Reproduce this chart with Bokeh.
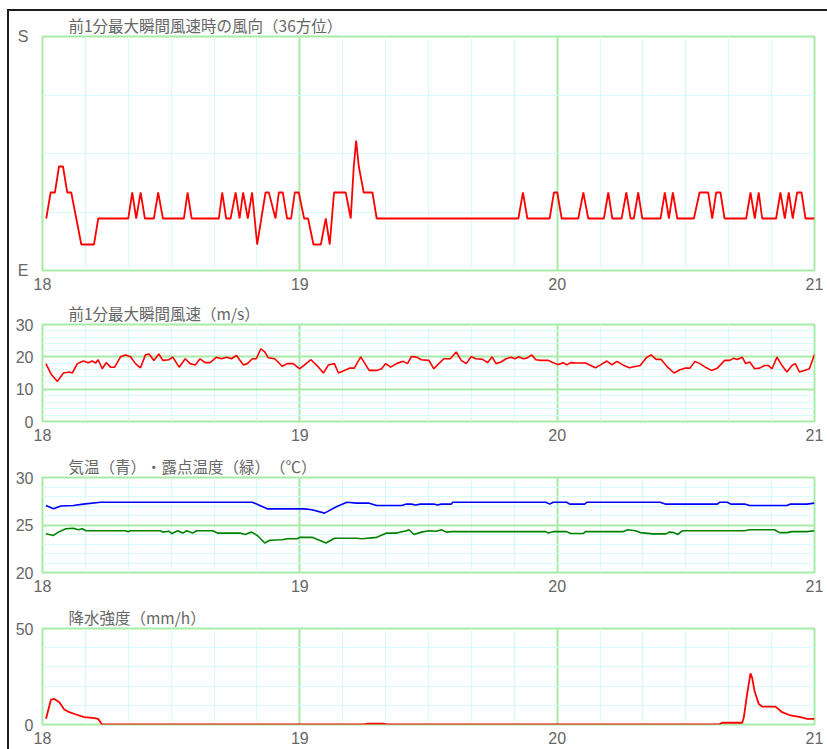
from bokeh.plotting import figure
from bokeh.layouts import column
from bokeh.models import FixedTicker, Range1d
from bokeh.embed import file_html
from bokeh.resources import INLINE

# ---------------- data ----------------
DAY_TICKS = [18, 19, 20, 21]

# panel 1: wind direction at max gust (degrees, 36-point compass; E=90, S=180)
wd_hours = [0.35, 0.76, 1.16, 1.54, 1.91, 2.31, 2.68, 3.15, 3.62, 4.80, 5.20, 8.00, 8.37, 8.74,
            9.15, 9.55, 10.39, 10.79, 11.23, 13.19, 13.53, 13.91, 16.45, 16.76, 17.13, 17.54,
            18.01, 18.38, 18.71, 19.15, 19.55, 20.02, 20.80, 21.11, 21.73, 22.04, 22.41, 22.81,
            23.19, 23.53, 23.90, 24.40, 24.77, 25.27, 25.96, 26.42, 26.79, 27.19, 28.28, 28.75,
            29.03, 29.25, 29.50, 29.96, 30.77, 31.17, 44.38, 44.81, 45.22, 47.30, 47.70, 48.01,
            48.42, 49.97, 50.44, 50.90, 52.36, 52.77, 53.14, 54.01, 54.45, 54.85, 55.15, 55.56,
            55.94, 57.64, 58.04, 58.42, 58.79, 59.20, 60.75, 61.28, 62.09, 62.46, 62.83, 63.23,
            63.61, 65.63, 66.03, 66.43, 66.80, 67.12, 68.42, 68.82, 69.23, 69.60, 69.97, 70.38,
            70.79, 71.16, 72.00]
wd_deg = [110, 120, 120, 130, 130, 120, 120, 110, 100, 100, 110, 110, 120, 110,
          120, 110, 110, 120, 110, 110, 120, 110, 110, 120, 110, 110,
          120, 110, 120, 110, 120, 100, 120, 120, 110, 120, 120, 110,
          110, 120, 120, 110, 110, 100, 100, 110, 100, 120, 120, 110,
          130, 140, 130, 120, 120, 110, 110, 120, 110, 110, 120, 120,
          110, 110, 120, 110, 110, 120, 110, 110, 120, 110, 110, 120,
          110, 110, 120, 110, 120, 110, 110, 120, 120, 110, 120, 120,
          110, 110, 120, 110, 120, 110, 110, 120, 110, 120, 110, 120,
          120, 110, 110]

# panel 2: max gust speed (m/s)
ws_hours = [0.32, 0.79, 1.39, 1.95, 2.50, 2.78, 3.25, 3.80, 4.27, 4.64, 4.96, 5.19, 5.57, 5.94,
            6.35, 6.73, 7.28, 7.75, 8.21, 8.67, 9.14, 9.60, 9.93, 10.39, 10.85, 11.22, 11.78,
            12.15, 12.75, 13.31, 13.77, 14.24, 14.70, 15.17, 15.63, 16.23, 16.70, 17.16, 17.62,
            18.09, 18.74, 19.11, 19.57, 19.94, 20.36, 20.73, 21.06, 21.66, 22.35, 22.82, 23.38,
            23.98, 24.58, 25.04, 25.60, 26.20, 26.67, 27.22, 27.60, 28.15, 28.62, 29.08, 29.68,
            30.47, 31.17, 31.63, 32.00, 32.47, 33.02, 33.63, 34.04, 34.41, 34.88, 35.34, 36.04,
            36.50, 36.96, 37.43, 38.03, 38.59, 39.05, 39.52, 39.98, 40.44, 41.05, 41.51, 41.93,
            42.30, 42.76, 43.23, 43.69, 44.06, 44.39, 44.85, 45.17, 45.64, 46.01, 46.47, 47.17,
            47.63, 48.10, 48.56, 48.89, 49.25, 49.72, 50.65, 51.57, 52.04, 52.64, 53.11, 53.57,
            54.13, 54.73, 55.28, 55.75, 56.31, 56.77, 57.23, 57.70, 58.30, 58.90, 59.46, 59.92,
            60.39, 60.85, 61.31, 61.92, 62.38, 62.94, 63.63, 64.10, 64.47, 64.79, 65.26, 65.58,
            65.95, 66.42, 66.88, 67.34, 67.71, 68.04, 68.50, 68.97, 69.43, 69.90, 70.22, 70.59,
            71.05, 71.52, 72.00]
ws_ms = [17.9, 14.7, 12.4, 15.0, 15.3, 15.0, 17.9, 18.7, 18.2, 18.7, 18.1, 19.1, 16.3, 18.2,
         16.8, 16.8, 20.0, 20.6, 20.0, 17.9, 16.6, 20.6, 20.9, 18.9, 20.9, 18.9, 19.1,
         19.9, 16.8, 19.4, 17.9, 17.5, 19.4, 18.2, 18.2, 19.9, 19.4, 19.9, 19.4,
         20.4, 17.5, 17.9, 19.4, 19.4, 22.5, 21.5, 19.7, 19.4, 17.1, 17.9, 17.9,
         16.3, 17.9, 19.1, 17.3, 15.0, 17.5, 17.9, 15.0, 15.8, 16.5, 16.5, 20.0,
         15.8, 15.8, 16.3, 17.9, 16.8, 17.9, 18.6, 17.9, 20.1, 19.9, 19.1, 18.9,
         16.3, 17.9, 19.4, 19.4, 21.5, 18.9, 17.9, 20.0, 19.4, 19.2, 18.2, 20.0,
         17.9, 18.4, 19.4, 19.9, 19.4, 20.0, 19.4, 19.6, 20.6, 19.1, 18.9, 18.9,
         18.2, 17.6, 18.2, 17.5, 18.2, 18.1, 18.1, 16.6, 17.5, 18.7, 17.5, 18.6,
         17.5, 16.6, 17.0, 17.3, 19.7, 20.6, 19.2, 19.2, 16.8, 15.0, 16.0, 16.5,
         16.5, 18.6, 17.9, 16.6, 15.8, 16.5, 18.9, 18.9, 19.6, 19.2, 19.9, 17.9,
         18.4, 16.3, 16.5, 17.3, 17.3, 16.3, 19.9, 17.3, 15.3, 17.3, 17.9, 15.3,
         15.8, 16.3, 20.7]

# panel 3: air temperature (blue) and dew point (green), deg C
ta_hours = [0.32, 1.02, 1.72, 2.88, 3.80, 5.43, 19.57, 20.96, 24.44, 25.14, 26.30, 27.46, 28.39,
            29.31, 30.47, 31.17, 33.49, 33.95, 34.42, 34.79, 35.25, 36.50, 36.83, 37.20, 38.13,
            38.26, 46.94, 47.31, 47.63, 48.89, 49.17, 50.56, 50.79, 57.61, 58.07, 59.46, 62.94,
            63.17, 63.87, 64.19, 65.49, 65.95, 69.43, 69.76, 71.29, 72.00]
ta_c = [27.05, 26.7, 27.0, 27.05, 27.2, 27.4, 27.4, 26.7, 26.7, 26.6, 26.25, 26.95, 27.4,
        27.3, 27.3, 27.05, 27.05, 27.2, 27.2, 27.1, 27.2, 27.2, 27.1, 27.2, 27.2,
        27.4, 27.4, 27.2, 27.4, 27.4, 27.2, 27.2, 27.4, 27.4, 27.2, 27.2, 27.2,
        27.4, 27.4, 27.2, 27.2, 27.05, 27.05, 27.2, 27.2, 27.3]
td_hours = [0.32, 1.02, 1.48, 2.18, 2.88, 3.34, 3.71, 4.04, 7.75, 7.98, 8.21, 10.99, 11.22, 11.78,
            12.06, 12.62, 13.08, 13.45, 14.01, 14.38, 15.86, 16.33, 18.41, 18.88, 19.48, 20.04,
            20.73, 21.20, 22.36, 22.82, 23.75, 23.98, 25.14, 25.83, 26.44, 27.23, 29.31, 29.78,
            31.17, 32.10, 33.02, 33.95, 34.18, 34.65, 35.34, 36.04, 36.73, 37.20, 37.66, 38.13,
            46.94, 47.17, 47.63, 48.89, 49.26, 50.42, 50.65, 54.13, 54.59, 55.29, 55.75, 56.91,
            58.16, 58.44, 58.91, 59.23, 59.69, 65.49, 65.95, 68.27, 68.74, 69.43, 69.90, 71.29,
            72.00]
td_c = [24.07, 23.9, 24.25, 24.6, 24.65, 24.5, 24.6, 24.4, 24.4, 24.3, 24.4, 24.4, 24.25, 24.35,
        24.1, 24.4, 24.15, 24.4, 24.15, 24.4, 24.4, 24.15, 24.15, 24.0, 24.25, 23.9,
        23.1, 23.4, 23.45, 23.55, 23.55, 23.7, 23.7, 23.4, 23.1, 23.6, 23.6, 23.55,
        23.7, 24.15, 24.15, 24.4, 24.5, 24.0, 24.25, 24.4, 24.35, 24.5, 24.25, 24.3,
        24.3, 24.15, 24.3, 24.3, 24.1, 24.1, 24.3, 24.3, 24.5, 24.4, 24.2, 24.07,
        24.07, 24.25, 24.2, 24.0, 24.4, 24.4, 24.5, 24.5, 24.2, 24.2, 24.3, 24.3,
        24.4]

# panel 4: precipitation intensity (mm/h)
pr_hours = [0.33, 0.79, 1.10, 1.57, 2.03, 2.50, 3.12, 3.90, 4.68, 5.20, 5.55, 30.0, 30.3, 31.8,
            32.1, 63.08, 63.4, 65.26, 65.41, 65.72, 66.03, 66.19, 66.40, 66.80, 67.12, 68.36,
            68.98, 69.76, 70.69, 71.31, 72.00]
pr_mmh = [3.0, 13.0, 13.3, 11.6, 7.8, 6.4, 5.2, 3.8, 3.5, 2.9, 0.0, 0.0, 0.4, 0.4,
          0.0, 0.0, 0.9, 0.9, 3.8, 15.9, 26.6, 24.2, 17.6, 10.7, 9.3, 9.3,
          6.4, 4.7, 3.8, 2.9, 2.9]

TITLES = ["前1分最大瞬間風速時の風向（36方位）", "前1分最大瞬間風速（m/s）",
          "気温（青）・露点温度（緑）（℃）", "降水強度（mm/h）"]

# ---------------- styling ----------------
GREEN = "#a6eba6"
CYAN = "#d6fbfb"
TXT = "#666666"
JP_FONT = "Noto Sans CJK JP"
NUM_FONT = "'Liberation Sans Narrow', 'Liberation Sans'"
FIG_W = 818


def to_day(hours):
    return [18 + h / 24.0 for h in hours]


def make_panel(title, height, top, bottom, ymin, ymax, ymajor, yminor, yticks,
               ylabels=None, ystand=9):
    p = figure(width=FIG_W, height=height, output_backend="svg", toolbar_location=None,
               x_range=Range1d(18, 21), y_range=Range1d(ymin, ymax),
               min_border_left=33, min_border_right=13,
               min_border_top=top, min_border_bottom=bottom,
               background_fill_color="white", border_fill_color="white",
               styles={"text-spacing-trim": "space-all"})
    p.title.text = title
    p.title.align = "left"
    p.title.offset = 26
    p.title.standoff = 1
    p.title.text_font = JP_FONT
    p.title.text_font_size = "15.5px"
    p.title.text_font_style = "normal"
    p.title.text_color = TXT

    p.outline_line_color = GREEN
    p.outline_line_width = 2

    # x grid: day lines (green) and 4-hour lines (light cyan)
    p.xgrid.ticker = FixedTicker(ticks=DAY_TICKS,
                                 minor_ticks=[18 + k / 6 for k in range(19)])
    p.xgrid.grid_line_color = GREEN
    p.xgrid.grid_line_width = 2
    p.xgrid.minor_grid_line_color = CYAN
    p.xgrid.minor_grid_line_width = 1
    # y grid
    p.ygrid.ticker = FixedTicker(ticks=ymajor, minor_ticks=yminor)
    p.ygrid.grid_line_color = GREEN
    p.ygrid.grid_line_width = 2
    p.ygrid.minor_grid_line_color = CYAN
    p.ygrid.minor_grid_line_width = 1

    # axes
    p.xaxis.ticker = FixedTicker(ticks=DAY_TICKS)
    p.yaxis.ticker = FixedTicker(ticks=yticks)
    if ylabels:
        p.yaxis.major_label_overrides = ylabels
    for ax, stand in ((p.xaxis[0], 7), (p.yaxis[0], ystand)):
        ax.axis_line_color = None
        ax.major_tick_line_color = None
        ax.minor_tick_line_color = None
        ax.major_tick_out = 0
        ax.major_tick_in = 0
        ax.major_label_standoff = stand
        ax.major_label_text_font = NUM_FONT
        ax.major_label_text_font_size = "16px"
        ax.major_label_text_color = TXT
    return p


p1 = make_panel(TITLES[0], 285, 25, 26, 90, 180, [], [112.5, 135, 157.5], [90, 180],
                {90: "E", 180: "S"}, ystand=14)
p1.line(to_day(wd_hours), wd_deg, line_color="#ff0000", line_width=1.8)

p2 = make_panel(TITLES[1], 152, 28, 27, 0, 30, [10, 20], list(range(2, 30, 2)), [0, 10, 20, 30])
p2.line(to_day(ws_hours), ws_ms, line_color="#ff0000", line_width=1.6)

p3 = make_panel(TITLES[2], 151, 29, 27, 20, 30, [25], list(range(21, 30)), [20, 25, 30])
p3.line(to_day(ta_hours), ta_c, line_color="#0000ff", line_width=1.6)
p3.line(to_day(td_hours), td_c, line_color="#008000", line_width=1.6)

p4 = make_panel(TITLES[3], 150, 29, 25, 0, 50, [], [10, 20, 30, 40], [0, 50])
p4.line(to_day(pr_hours), pr_mmh, line_color="#ff0000", line_width=1.8)

layout = column(p1, p2, p3, p4, spacing=0,
                styles={"margin-left": "7px", "margin-top": "9px",
                        "border-left": "2px solid #1e1e1e", "border-top": "2px solid #1e1e1e",
                        "text-spacing-trim": "space-all"})

open("out.html", "w").write(file_html(layout, INLINE))
